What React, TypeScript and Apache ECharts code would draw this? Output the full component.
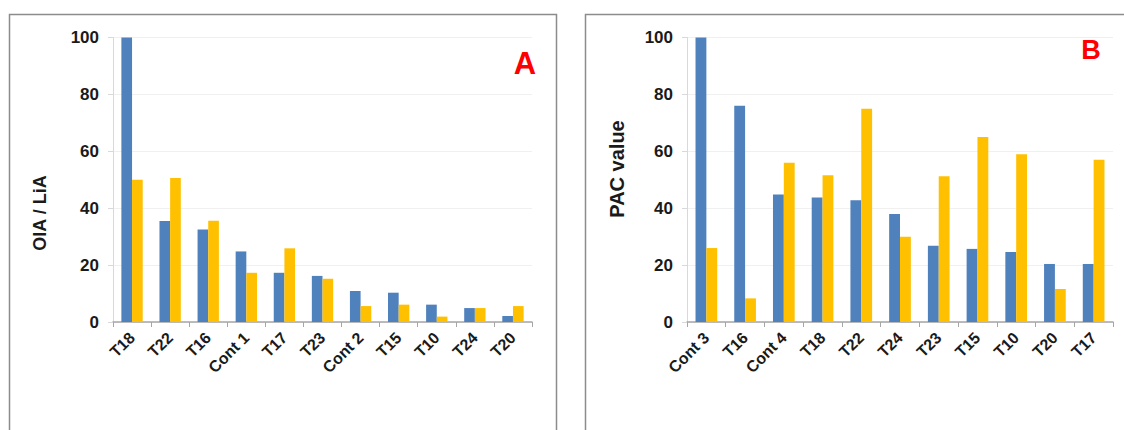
import React, { useEffect, useRef } from "react";
import * as echarts from "echarts";

const catsA = ["T18", "T22", "T16", "Cont 1", "T17", "T23", "Cont 2", "T15", "T10", "T24", "T20"];
const blueA = [100, 35.5, 32.5, 24.8, 17.3, 16.2, 10.9, 10.3, 6.1, 4.9, 2.1];
const yellowA = [50, 50.6, 35.6, 17.3, 25.9, 15.2, 5.6, 6.1, 1.9, 4.9, 5.6];

const catsB = ["Cont 3", "T16", "Cont 4", "T18", "T22", "T24", "T23", "T15", "T10", "T20", "T17"];
const blueB = [100, 76, 44.8, 43.8, 42.8, 38, 26.8, 25.7, 24.6, 20.4, 20.4];
const yellowB = [26, 8.3, 56, 51.6, 75, 30, 51.2, 65, 59, 11.6, 57];

const yTicks = [0, 20, 40, 60, 80, 100];

const FONT = "'Liberation Sans', Arial, sans-serif";
const BLUE = "#4F81BD";
const YELLOW = "#FFC000";

export default function App() {
  const ref = useRef<HTMLDivElement>(null);
  useEffect(() => {
    if (!ref.current) return;
    const chart = echarts.init(ref.current, null, { renderer: "svg" });
    const yAxis = (gi: number) => ({
      type: "value",
      gridIndex: gi,
      min: yTicks[0],
      max: yTicks[yTicks.length - 1],
      interval: 20,
      axisLine: { show: true, lineStyle: { color: "#d9d9d9", width: 1 } },
      axisTick: { show: true, length: 5, lineStyle: { color: "#d9d9d9" } },
      axisLabel: { margin: 14, color: "#1a1a1a", fontWeight: "bold", fontSize: 17, fontFamily: FONT },
      splitLine: { show: true, lineStyle: { color: "#f0f0f0", width: 1 } },
    });
    const xAxis = (gi: number, data: string[]) => ({
      type: "category",
      gridIndex: gi,
      data,
      axisLine: { show: true, lineStyle: { color: "#a6a6a6", width: 1.5 } },
      axisTick: { show: true, length: 5, lineStyle: { color: "#a6a6a6" } },
      axisLabel: {
        rotate: 45,
        interval: 0,
        margin: 13,
        color: "#1a1a1a",
        fontWeight: "bold",
        fontSize: 16,
        fontFamily: FONT,
      },
    });
    const bar = (gi: number, data: number[], color: string) => ({
      type: "bar",
      xAxisIndex: gi,
      yAxisIndex: gi,
      data,
      itemStyle: { color },
      barGap: "0%",
      barCategoryGap: "44%",
    });
    chart.setOption({
      animation: false,
      backgroundColor: "#ffffff",
      grid: [
        { left: 113, top: 37.5, width: 419, height: 284.5 },
        { left: 687, top: 37.5, width: 426, height: 284.5 },
      ],
      xAxis: [xAxis(0, catsA), xAxis(1, catsB)],
      yAxis: [yAxis(0), yAxis(1)],
      series: [
        bar(0, blueA, BLUE),
        bar(0, yellowA, YELLOW),
        bar(1, blueB, BLUE),
        bar(1, yellowB, YELLOW),
      ],
      graphic: [
        {
          type: "rect",
          shape: { x: 9.5, y: 14.5, width: 547, height: 430 },
          style: { fill: "none", stroke: "#8c8c8c", lineWidth: 1.5 },
          silent: true,
          z: 0,
        },
        {
          type: "rect",
          shape: { x: 585.5, y: 14.5, width: 560, height: 430 },
          style: { fill: "none", stroke: "#8c8c8c", lineWidth: 1.5 },
          silent: true,
          z: 0,
        },
        {
          type: "text",
          x: 40,
          y: 213,
          rotation: Math.PI / 2,
          style: {
            text: "OIA / LiA",
            fill: "#1a1a1a",
            font: `bold 18px ${FONT}`,
            align: "center",
            verticalAlign: "middle",
          },
        },
        {
          type: "text",
          x: 617,
          y: 169,
          rotation: Math.PI / 2,
          style: {
            text: "PAC value",
            fill: "#1a1a1a",
            font: `bold 20px ${FONT}`,
            align: "center",
            verticalAlign: "middle",
          },
        },
        {
          type: "text",
          x: 525,
          y: 63,
          style: {
            text: "A",
            fill: "#ff0000",
            font: `bold 31px ${FONT}`,
            align: "center",
            verticalAlign: "middle",
          },
        },
        {
          type: "text",
          x: 1091,
          y: 50,
          style: {
            text: "B",
            fill: "#ff0000",
            font: `bold 27px ${FONT}`,
            align: "center",
            verticalAlign: "middle",
          },
        },
      ],
    });
    return () => chart.dispose();
  }, []);
  return (
    <div
      ref={ref}
      style={{ position: "fixed", left: 0, top: 0, width: 1124, height: 430, background: "#fff" }}
    />
  );
}
